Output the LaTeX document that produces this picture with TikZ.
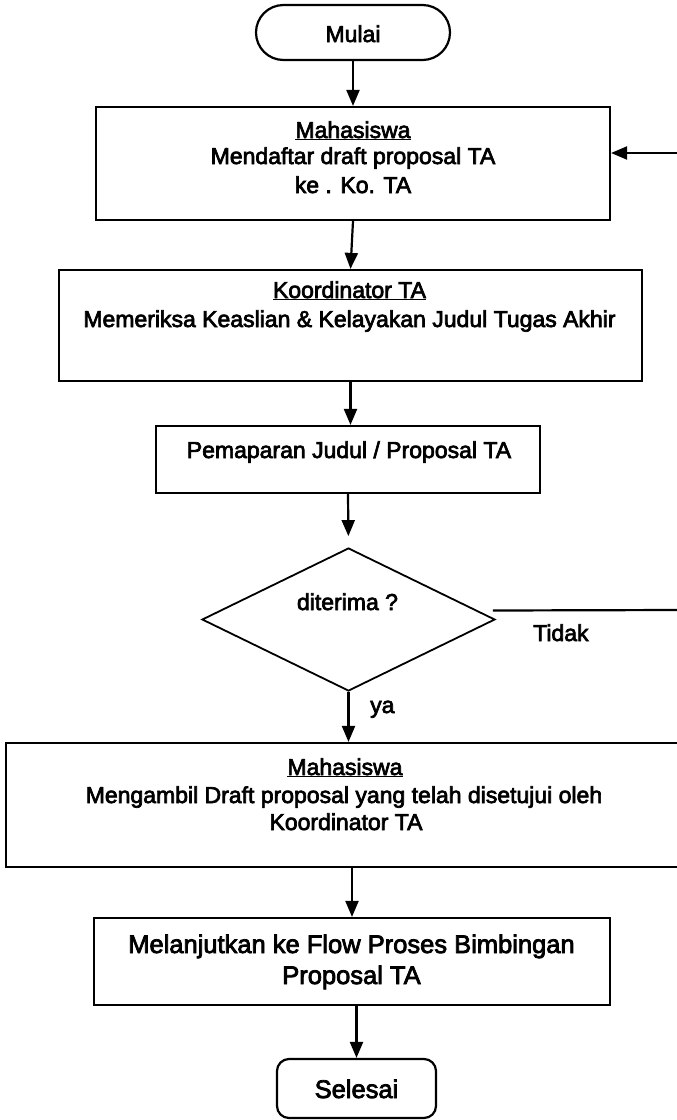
\documentclass[tikz,border=0pt]{standalone}
\usepackage{fontspec}
\setmainfont{Liberation Sans}[UprightFeatures={FakeBold=3}]
\usetikzlibrary{shapes.geometric,arrows.meta}
\begin{document}
\begin{tikzpicture}[x=1pt,y=-1pt,
  box/.style={draw, line width=2.2pt, rectangle, inner sep=0pt},
  txt/.style={font=\fontsize{23}{28}\selectfont, inner sep=0pt, anchor=base},
  bigtxt/.style={font=\fontsize{25.5}{31}\selectfont, inner sep=0pt, anchor=base},
  arr/.style={line width=2.2pt, -{Triangle[length=16pt,width=13pt]}},
  ln/.style={line width=2.2pt}]
\path[use as bounding box, clip] (0,0) rectangle (677,1120);

% start
\node[box, rounded corners=27.5pt, minimum width=194pt, minimum height=55pt] (start) at (353,32.5) {};
\node[txt] (startT) at (353,42) {Mulai};

% box 1
\node[box, minimum width=514pt, minimum height=113pt] (b1) at (353,163.5) {};
\node[txt] (b1a) at (353,138) {\underline{Mahasiswa}};
\node[txt] (b1b) at (353,164) {Mendaftar draft proposal TA};
\node[txt] (b1c) at (353,193) {ke . Ko. TA};

% box 2
\node[box, minimum width=583pt, minimum height=111pt] (b2) at (350.5,325.5) {};
\node[txt] (b2a) at (349.5,298) {\underline{Koordinator TA}};
\node[txt] (b2b) at (349.5,327) {Memeriksa Keaslian \& Kelayakan Judul Tugas Akhir};

% box 3
\node[box, minimum width=384pt, minimum height=67pt] (b3) at (348,459.5) {};
\node[txt] (b3a) at (349,458) {Pemaparan Judul / Proposal TA};

% decision
\node[draw, diamond, line width=1.8pt, minimum width=293pt, minimum height=143pt, inner sep=0pt] (d) at (348.5,619.5) {};
\node[txt] (dT) at (347.5,610) {diterima ?};
\node[txt, anchor=base west] (tidak) at (533,641) {Tidak};
\node[txt, anchor=base west] (ya) at (370,713) {ya};

% box 4
\node[box, minimum width=684pt, minimum height=124pt] (b4) at (348,805) {};
\node[txt] (b4a) at (345,775) {\underline{Mahasiswa}};
\node[txt] (b4b) at (344,803) {Mengambil Draft proposal yang telah disetujui oleh};
\node[txt] (b4c) at (346,830) {Koordinator TA};

% box 5
\node[box, minimum width=516pt, minimum height=87pt] (b5) at (352,961.5) {};
\node[bigtxt] (b5a) at (351.5,953) {Melanjutkan ke Flow Proses Bimbingan};
\node[bigtxt] (b5b) at (351.5,984) {Proposal TA};

% end
\node[box, rounded corners=12pt, minimum width=159pt, minimum height=59pt] (sel) at (356.5,1088.5) {};
\node[bigtxt] (selT) at (356.5,1098) {Selesai};

% connectors
\draw[arr] (start.south) -- (b1.north);
\draw[arr] (b1.south) -- (b2.north);
\draw[arr] (b2.south) -- (b2.south |- b3.north);
\draw[arr, shorten >=11pt] (b3.south) -- (d.north);
\coordinate (rt1) at (677,153);
\draw[arr] (rt1) -- (b1.east |- rt1);
\coordinate (rt2) at (677,610);
\draw[ln] ([xshift=-3pt,yshift=9pt]d.east) -- (rt2);
\draw[arr] (d.south) -- (d.south |- b4.north);
\draw[arr] (b5.north |- b4.south) -- (b5.north);
\draw[arr] (sel.north |- b5.south) -- (sel.north);
\end{tikzpicture}
\end{document}
